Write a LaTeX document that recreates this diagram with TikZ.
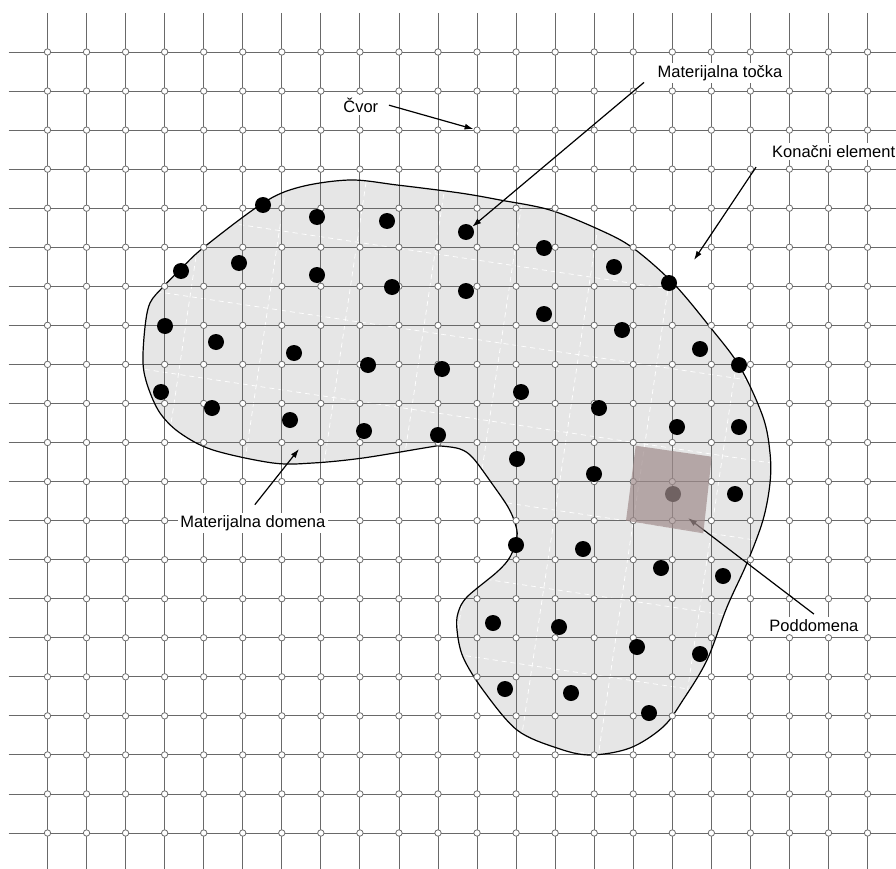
\documentclass[tikz,border=0pt]{standalone}
\usepackage{fontspec}
\setmainfont{Liberation Sans}
\usetikzlibrary{arrows.meta, positioning, calc}
\definecolor{gridline}{RGB}{105,105,105}
\definecolor{nodeedge}{RGB}{110,110,110}
\definecolor{domainfill}{RGB}{230,230,230}
\definecolor{subfill}{RGB}{160,140,140}
\tikzset{
  gline/.style={draw=gridline, line width=0.9pt},
  gnode/.style={circle, draw=nodeedge, fill=white, line width=0.8pt,
    minimum size=6.4pt, inner sep=0pt},
  mpoint/.style={circle, fill=black, minimum size=16pt, inner sep=0pt},
  mesh/.style={draw=white, line width=0.7pt, dash pattern=on 5pt off 4pt},
  border/.style={draw=black, line width=1.2pt},
  lbl/.style={fill=white, inner sep=2.5pt, font=\fontsize{16.5}{19}\selectfont},
  pointer/.style={-{Latex[length=9pt,width=6pt]}, line width=1.2pt},
}
\newcommand{\domainshape}{plot[smooth cycle, tension=0.55] coordinates {
  (263,203) (300,187) (350,180) (397,185) (460,193) (500,200) (550,210)
  (600,230) (633,248) (673,283) (710,327) (740,367) (763,417) (770,453)
  (770,483) (763,520) (747,563) (727,607) (707,660) (683,700) (663,727)
  (630,748) (590,755) (557,748) (517,730) (483,690) (463,657) (457,630)
  (458,613) (467,597) (497,572) (510,557) (517,537) (515,523) (508,507)
  (493,485) (473,458) (460,449) (440,446) (430,447) (363,458) (313,463)
  (273,463) (213,450) (180,433) (160,413) (148,387) (143,363) (145,327)
  (150,303) (163,287) (180,270) (203,248)}}

\begin{document}
\begin{tikzpicture}[x=1pt, y=-1pt]
  \useasboundingbox (0,0) rectangle (896,869);
  \clip (0,0) rectangle (896,869);

  % material domain
  \fill[domainfill] \domainshape;
  \begin{scope}
    \clip \domainshape;
    \begin{scope}[rotate around={-8.5:(460,337)}]
      \foreach \k in {-3,...,6}
        \draw[mesh] (0,{337+78.6*\k}) -- (900,{337+78.6*\k});
      \foreach \k in {-4,...,7}
        \draw[mesh] ({265.6+78.6*\k},0) -- ({265.6+78.6*\k},900);
    \end{scope}
  \end{scope}

  % background grid
  \foreach \i in {0,...,21}
    \draw[gline] ({47.5+39.05*\i},13) -- ({47.5+39.05*\i},880);
  \foreach \j in {0,...,20}
    \draw[gline] (8.5,{52+39.05*\j}) -- (910,{52+39.05*\j});

  \draw[border] \domainshape;

  % grid nodes
  \foreach \i in {0,...,21}
    \foreach \j in {0,...,20}
      \node[gnode] (n-\i-\j) at ({47.5+39.05*\i},{52+39.05*\j}) {};

  % material points
  \foreach \p [count=\k] in {(263,205), (317,217), (387,221), (466,232),
      (544,248), (181,271), (239,263), (317,275), (392,287), (466,291),
      (614,267), (669,283), (165,326), (216,342), (294,353), (544,314),
      (622,330), (368,365), (442,369), (700,349), (739,365), (161,392),
      (212,408), (290,420), (364,431), (438,435), (521,392), (599,408),
      (677,427), (739,427), (517,459), (594,474), (735,494), (516,545),
      (583,549), (661,568), (723,576), (493,623), (559,627), (637,647),
      (700,654), (505,689), (571,693), (649,713), (673,494)}
    \node[mpoint] (mp\k) at \p {};

  % labels
  \node[lbl, anchor=base west] (cvor)   at (340.7,112.3) {Čvor};
  \node[lbl, anchor=base west] (tocka)  at (655,77.3)    {Materijalna točka};
  \node[lbl, anchor=base west] (konel)  at (769.5,157.3) {Konačni element};
  \node[lbl, anchor=base west] (domena) at (177.7,527.3) {Materijalna domena};
  \node[lbl, anchor=base west] (podd)   at (766.7,631.7) {Poddomena};

  \coordinate (elem) at (694,260);
  \coordinate (dom)  at (299,449);
  \coordinate (sub)  at (688,518);

  \draw[pointer] ([xshift=8pt]cvor.east) -- (n-11-2);
  \draw[pointer] ([shift={(-11pt,1pt)}]tocka.south west) -- (mp4);
  \draw[pointer] ([shift={(-13.5pt,-7pt)}]konel.south west) -- (elem);
  \draw[pointer] ([shift={(2pt,8pt)}]domena.north) -- (dom);
  \draw[pointer] ([yshift=3pt]podd.north) -- (sub);

  % subdomain
  \fill[subfill, fill opacity=0.7]
    (635.7,445.7) -- (711.7,456.7) -- (703.3,533.3) -- (626,520.7) -- cycle;
\end{tikzpicture}
\end{document}
